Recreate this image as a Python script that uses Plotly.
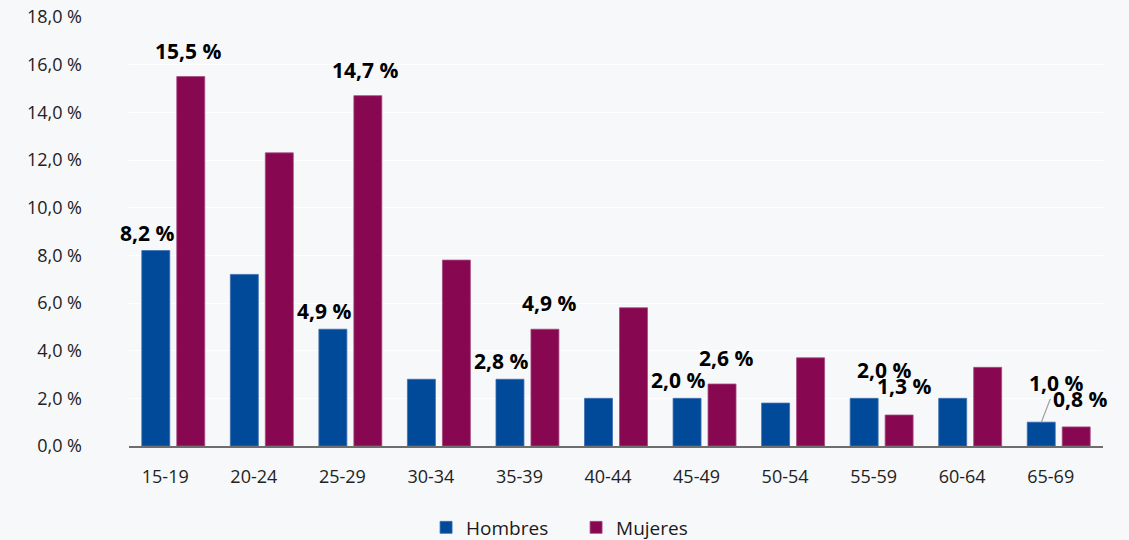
import plotly.graph_objects as go

categories = ["15-19", "20-24", "25-29", "30-34", "35-39", "40-44",
              "45-49", "50-54", "55-59", "60-64", "65-69"]
hombres = [8.2, 7.2, 4.9, 2.8, 2.8, 2.0, 2.0, 1.8, 2.0, 2.0, 1.0]
mujeres = [15.5, 12.3, 14.7, 7.8, 4.9, 5.8, 2.6, 3.7, 1.3, 3.3, 0.8]
labeled = ["15-19", "25-29", "35-39", "45-49", "55-59", "65-69"]

BLUE = "#004a99"
PURPLE = "#870750"
BG = "#f7f8fa"
LABEL_FONT = dict(size=21, color="#000000", family="Open Sans", weight="bold")

fig = go.Figure()
fig.add_trace(go.Bar(name="Hombres", x=categories, y=hombres,
                     marker=dict(color=BLUE, line=dict(color="#3f6fb0", width=0.8))))
fig.add_trace(go.Bar(name="Mujeres", x=categories, y=mujeres,
                     marker=dict(color=PURPLE, line=dict(color="#a84a80", width=0.8))))

def fmt(v):
    return f"{v:.1f}".replace(".", ",") + " %"

# label placement tweaks (style only)
base = {"h": dict(dx=-9, dy=2), "m": dict(dx=4, dy=10)}
special = {
    ("m", "15-19"): dict(xshift=-7, yshift=0),
    ("m", "25-29"): dict(xshift=-7, yshift=0),
    ("h", "55-59"): dict(xshift=29, yshift=10),
    ("m", "55-59"): dict(xshift=1, yshift=3),
    ("m", "65-69"): dict(xshift=0, yshift=2),
}
annotations = []
for series, vals, off in (("h", hombres, -17.4), ("m", mujeres, 17.4)):
    for c, v in zip(categories, vals):
        if c not in labeled:
            continue
        if series == "h" and c == "65-69":
            annotations.append(dict(
                x=c, y=v, xref="x", yref="y", text=fmt(v), xshift=off,
                showarrow=True, arrowhead=0, arrowwidth=1.2, arrowcolor="#a0a0a0",
                ax=15, ay=-39, standoff=0, font=LABEL_FONT))
            continue
        sp = special.get((series, c), {})
        annotations.append(dict(
            x=c, y=v, xref="x", yref="y", text=fmt(v), showarrow=False,
            xanchor="center", yanchor="bottom",
            xshift=off + base[series]["dx"] + sp.get("xshift", 0),
            yshift=base[series]["dy"] + sp.get("yshift", 0),
            font=LABEL_FONT))

fig.update_layout(
    width=1129, height=540,
    paper_bgcolor=BG, plot_bgcolor=BG,
    margin=dict(l=129, r=26, t=17, b=94, autoexpand=False),
    barmode="group", bargap=0.21, bargroupgap=0.2,
    separators=", ",
    font=dict(family="Open Sans", size=18, color="#222222"),
    showlegend=True,
    legend=dict(orientation="h", x=0.305, xanchor="left", y=-0.19, yanchor="middle",
                font=dict(size=19, color="#1a1a1a"), traceorder="normal",
                entrywidth=105, bgcolor="rgba(0,0,0,0)"),
    annotations=annotations,
)
fig.update_yaxes(range=[0, 18], dtick=2, tickformat=".1f", ticksuffix=" %",
                 gridcolor="#ffffff", gridwidth=1, zeroline=False,
                 ticklabelstandoff=46, showline=False,
                 tickfont=dict(size=18, color="#222222"))
fig.update_xaxes(range=[-0.5, 10.5], showline=True, linecolor="#6e6e6e", linewidth=1.5,
                 ticks="", ticklabelstandoff=14, ticklabelshift=-8,
                 tickfont=dict(size=18, color="#222222"))

fig.write_html("out.html")
